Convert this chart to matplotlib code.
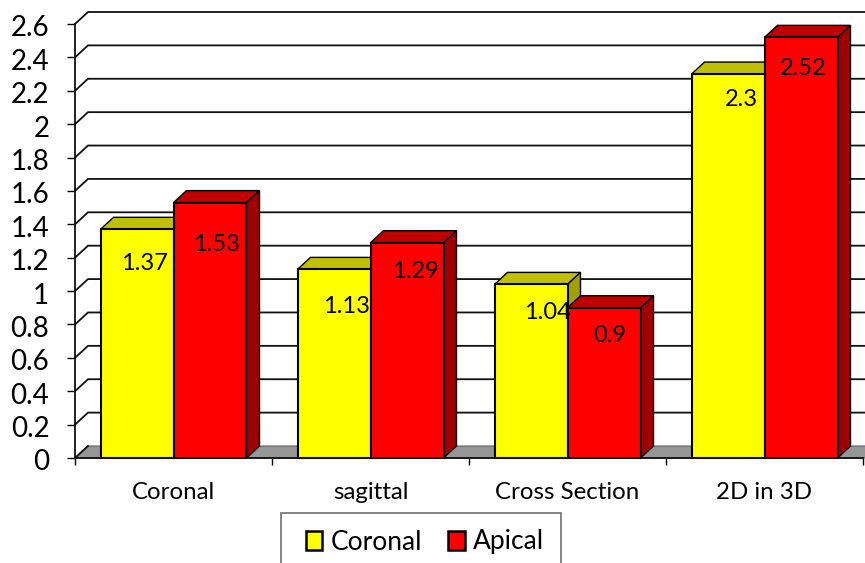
import matplotlib
matplotlib.use('Agg')
import numpy as np
import matplotlib.pyplot as plt
from matplotlib.patches import Patch, Polygon, Rectangle
from matplotlib.transforms import ScaledTranslation

plt.rcParams['font.family'] = ['Lato', 'DejaVu Sans']

# Chart data
categories = ['Coronal', 'sagittal', 'Cross Section', '2D in 3D']
coronal = [1.37, 1.13, 1.04, 2.3]
apical = [1.53, 1.29, 0.9, 2.52]
y_ticks = [0, 0.2, 0.4, 0.6, 0.8, 1, 1.2, 1.4, 1.6, 1.8, 2, 2.2, 2.4, 2.6]
y_labels = ['0', '0.2', '0.4', '0.6', '0.8', '1', '1.2', '1.4', '1.6', '1.8', '2', '2.2', '2.4', '2.6']

# Label nudges from the middle of each bar's front face (dx px, px below top)
coronal_nudge = [(7, 34), (13, 37), (16, 28), (13, 25)]
apical_nudge = [(7, 42), (8, 29), (6, 28), (2, 31)]

W, H = 865, 563
fig = plt.figure(figsize=(W / 100, H / 100), dpi=100)
ax = fig.add_axes([75 / W, 1 - 458 / H, 788 / W, 434 / H])
ax.patch.set_alpha(0)
ax.set_xlim(0, 4)
ax.set_ylim(0, 2.6)

# 3D look: depth of the box in data units
px_x = 4 / 788
px_y = 2.6 / 434
dx = 13 * px_x
dy = 12 * px_y
bar_w = 73 * px_x
right_end = 4.02

# floor
ax.add_patch(Polygon([(0, 0), (dx, dy), (right_end, dy), (right_end, 0)],
                     facecolor='#969696', edgecolor='#606060', lw=0.8,
                     clip_on=False, zorder=1))

# back wall grid lines with their diagonal on the side wall
for v in y_ticks:
    if v > 0:
        ax.plot([0, dx, right_end], [v, v + dy, v + dy], color='#111111', lw=1.3,
                clip_on=False, zorder=1.5, solid_joinstyle='miter')
    else:
        ax.plot([0, dx], [v, v + dy], color='#111111', lw=1.3, clip_on=False, zorder=1.5)


def draw_bar(x, h, front, top, side, z):
    ax.bar(x, h, width=bar_w, align='edge', color=front, edgecolor='black', lw=1.5,
           zorder=z + 0.2, clip_on=False)
    ax.add_patch(Polygon([(x, h), (x + dx, h + dy), (x + bar_w + dx, h + dy), (x + bar_w, h)],
                         facecolor=top, edgecolor='black', lw=1.0, clip_on=False, zorder=z))
    ax.add_patch(Polygon([(x + bar_w, 0), (x + bar_w + dx, dy), (x + bar_w + dx, h + dy), (x + bar_w, h)],
                         facecolor=side, edgecolor='black', lw=1.0, clip_on=False, zorder=z))


for i in range(len(categories)):
    x_mid = i + 0.5
    draw_bar(x_mid - bar_w, coronal[i], '#FFFF00', '#C0C000', '#A0A000', 2 + i)
    draw_bar(x_mid, apical[i], '#FF0000', '#C00000', '#A00000', 2.5 + i)

# value labels
for i in range(len(categories)):
    x_mid = i + 0.5
    for x0, vals, nudges in [(x_mid - bar_w / 2, coronal, coronal_nudge),
                             (x_mid + bar_w / 2, apical, apical_nudge)]:
        nx, ny = nudges[i]
        ax.text(x0 + nx * px_x, vals[i] - ny * px_y, str(vals[i]), ha='center', va='center',
                fontsize=17, color='black', zorder=20)

# axes
for s in ['top', 'right']:
    ax.spines[s].set_visible(False)
for s in ['left', 'bottom']:
    ax.spines[s].set_linewidth(1.3)
    ax.spines[s].set_color('#111111')
    ax.spines[s].set_zorder(10)

ax.set_yticks(y_ticks)
ax.set_yticklabels(y_labels, fontsize=20)
ax.tick_params(axis='y', length=5.5, width=1, pad=13)
shift_down = ScaledTranslation(0, -2 / 100, fig.dpi_scale_trans)
for lab in ax.get_yticklabels():
    lab.set_transform(lab.get_transform() + shift_down)

ax.set_xticks(range(len(categories) + 1))
ax.set_xticklabels([])
ax.tick_params(axis='x', length=5, width=1)
ax.set_xticks(np.arange(len(categories)) + 0.5, minor=True)
ax.set_xticklabels(categories, minor=True, fontsize=17.3)
ax.tick_params(axis='x', which='minor', length=0, pad=17)

# legend box runs off the bottom edge of the figure
fig.add_artist(Rectangle((281 / W, 1 - 580 / H), 280 / W, 67 / H, transform=fig.transFigure,
                         facecolor='white', edgecolor='#707070', lw=1.2))
handles = [Patch(facecolor='#FFFF00', edgecolor='black', lw=1.8),
           Patch(facecolor='#FF0000', edgecolor='black', lw=1.8)]
fig.legend(handles, ['Coronal', 'Apical'], ncol=2, loc='center left',
           bbox_to_anchor=(306 / W, 1 - 542 / H), borderaxespad=0, fontsize=19,
           frameon=False, handlelength=0.62, handleheight=0.7, handletextpad=0.3,
           columnspacing=1.0, borderpad=0)

fig.savefig('out.png', dpi=100)
